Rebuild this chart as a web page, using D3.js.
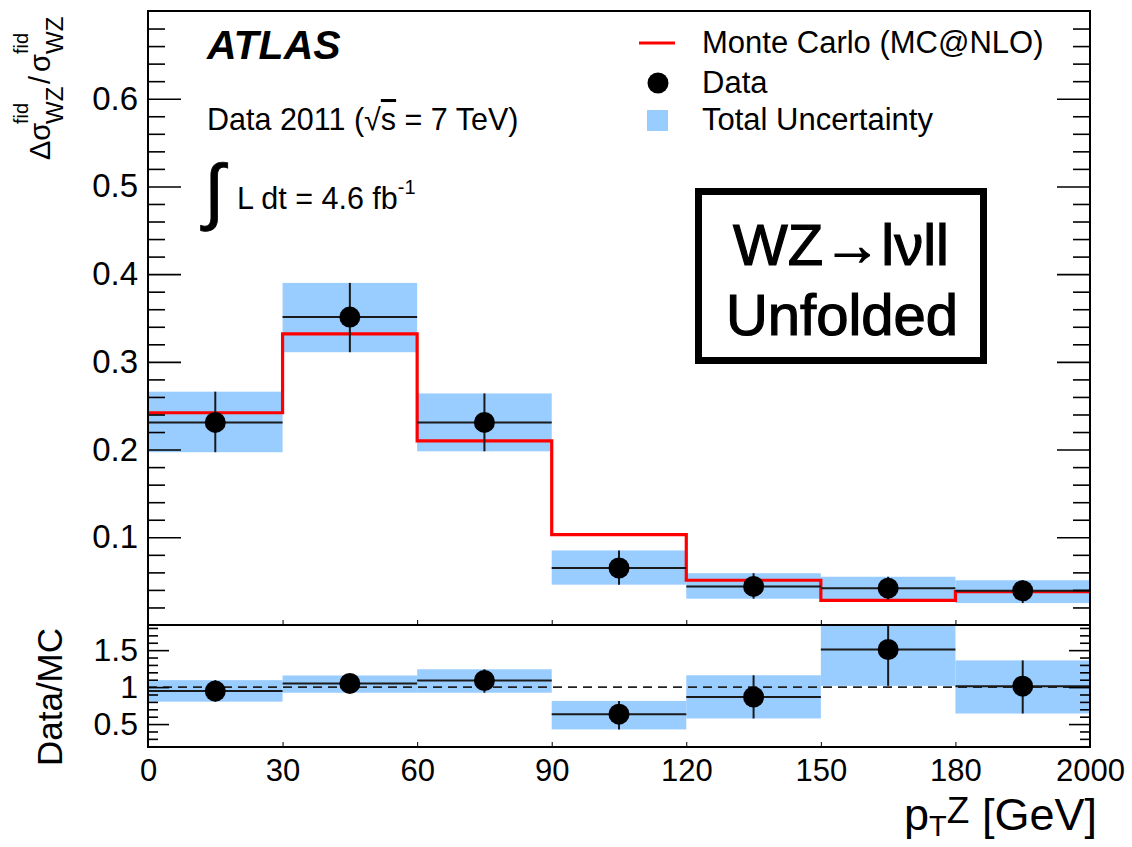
<!DOCTYPE html>
<html>
<head>
<meta charset="utf-8">
<script src="https://cdn.jsdelivr.net/npm/d3@7"></script>
<style>
  body { margin: 0; background: #fff; }
  svg text { font-family: "Liberation Sans", Arial, Helvetica, sans-serif; fill: #000; }
</style>
</head>
<body>
<div id="chart-area"></div>
<script>
// bin edges in GeV (last bin is an overflow bin drawn with the same width)
const binEdges = ["0", "30", "60", "90", "120", "150", "180", "2000"]

// top panel: normalised differential cross section
const mcValues   = [0.242, 0.332, 0.210, 0.103, 0.051, 0.028, 0.038]
const dataValues = [0.231, 0.351, 0.231, 0.065, 0.044, 0.042, 0.039]
const uncLow     = [0.197, 0.311, 0.198, 0.046, 0.030, 0.029, 0.025]
const uncHigh    = [0.266, 0.390, 0.264, 0.085, 0.059, 0.055, 0.051]

// bottom panel: Data/MC
const ratioValues = [0.946, 1.050, 1.090, 0.634, 0.866, 1.509, 1.013]
const ratioLow    = [0.803, 0.924, 0.924, 0.428, 0.576, 1.017, 0.643]
const ratioHigh   = [1.094, 1.157, 1.241, 0.813, 1.160, 2.000, 1.361]

const topTicks = [0.1, 0.2, 0.3, 0.4, 0.5, 0.6]
const ratioTicks = [0.5, 1, 1.5]

const W = 1132, H = 847
const LEFT = 148, RIGHT = 1090
const TOP_Y0 = 11, TOP_Y1 = 625, RAT_Y1 = 747
const BLUE = "#99ccff"

const svg = d3.select("#chart-area").append("svg")
  .attr("width", W)
  .attr("height", H)

const x = d3.scaleLinear().domain([0, binEdges.length - 1]).range([LEFT, RIGHT])
const y = d3.scaleLinear().domain([0, 0.70]).range([TOP_Y1, TOP_Y0])
const yr = d3.scaleLinear().domain([0.19, 1.84]).range([RAT_Y1, TOP_Y1])

const defs = svg.append("defs")
defs.append("clipPath").attr("id", "clipTop").append("rect")
  .attr("x", LEFT).attr("y", TOP_Y0).attr("width", RIGHT - LEFT).attr("height", TOP_Y1 - TOP_Y0)
defs.append("clipPath").attr("id", "clipRat").append("rect")
  .attr("x", LEFT).attr("y", TOP_Y1).attr("width", RIGHT - LEFT).attr("height", RAT_Y1 - TOP_Y1)

const bins = d3.range(mcValues.length)

// ---------- top panel ----------
const gTop = svg.append("g").attr("clip-path", "url(#clipTop)")

gTop.selectAll("rect.unc").data(bins).enter().append("rect")
  .attr("class", "unc")
  .attr("x", i => x(i))
  .attr("width", i => x(i + 1) - x(i))
  .attr("y", i => y(uncHigh[i]))
  .attr("height", i => y(uncLow[i]) - y(uncHigh[i]))
  .attr("fill", BLUE)

const stepPts = []
bins.forEach(i => {
  stepPts.push([x(i), y(mcValues[i])])
  stepPts.push([x(i + 1), y(mcValues[i])])
})
gTop.append("path")
  .attr("d", d3.line()(stepPts))
  .attr("fill", "none")
  .attr("stroke", "#ff0000")
  .attr("stroke-width", 3.2)

function drawPoints(g, vals, lo, hi, ys) {
  g.selectAll("line.xerr").data(bins).enter().append("line")
    .attr("x1", i => x(i)).attr("x2", i => x(i + 1))
    .attr("y1", i => ys(vals[i])).attr("y2", i => ys(vals[i]))
    .attr("stroke", "#1a1a1a").attr("stroke-width", 2)
  g.selectAll("line.yerr").data(bins).enter().append("line")
    .attr("x1", i => x(i + 0.5)).attr("x2", i => x(i + 0.5))
    .attr("y1", i => ys(lo[i])).attr("y2", i => ys(hi[i]))
    .attr("stroke", "#1a1a1a").attr("stroke-width", 2)
  g.selectAll("circle").data(bins).enter().append("circle")
    .attr("cx", i => x(i + 0.5))
    .attr("cy", i => ys(vals[i]))
    .attr("r", 10.5)
    .attr("fill", "#000")
}
drawPoints(gTop, dataValues, uncLow, uncHigh, y)

// ---------- ratio panel ----------
const gRat = svg.append("g").attr("clip-path", "url(#clipRat)")

gRat.selectAll("rect.unc").data(bins).enter().append("rect")
  .attr("class", "unc")
  .attr("x", i => x(i))
  .attr("width", i => x(i + 1) - x(i))
  .attr("y", i => yr(ratioHigh[i]))
  .attr("height", i => yr(ratioLow[i]) - yr(ratioHigh[i]))
  .attr("fill", BLUE)

gRat.append("line")
  .attr("x1", LEFT).attr("x2", RIGHT)
  .attr("y1", yr(1)).attr("y2", yr(1))
  .attr("stroke", "#222").attr("stroke-width", 1.6)
  .attr("stroke-dasharray", "9,6")

drawPoints(gRat, ratioValues, ratioLow, ratioHigh, yr)

// ---------- axes ----------
function styleAxis(g, size) {
  g.select(".domain").remove()
  g.selectAll("line").attr("stroke", "#000").attr("stroke-width", 1.6)
  g.selectAll("text").attr("font-size", size).attr("font-family", null).attr("fill", "#000")
  g.attr("font-family", null)
}

const minorTop = d3.range(1, 35).map(k => k * 0.02).filter(v => Math.abs(v * 10 - Math.round(v * 10)) > 1e-6)
const minorRat = d3.range(2, 19).map(k => k / 10).filter(v => Math.abs(v * 2 - Math.round(v * 2)) > 1e-6)

// left
svg.append("g").attr("transform", `translate(${LEFT},0)`)
  .call(d3.axisLeft(y).tickValues(topTicks).tickSize(-33).tickPadding(10).tickFormat(d3.format(".1f")))
  .call(g => styleAxis(g, 33))
svg.append("g").attr("transform", `translate(${LEFT},0)`)
  .call(d3.axisLeft(y).tickValues(minorTop).tickSize(-17).tickFormat(""))
  .call(g => styleAxis(g, 10))
svg.append("g").attr("transform", `translate(${LEFT},0)`)
  .call(d3.axisLeft(yr).tickValues(ratioTicks).tickSize(-21).tickPadding(10).tickFormat(d => d))
  .call(g => styleAxis(g, 32))
svg.append("g").attr("transform", `translate(${LEFT},0)`)
  .call(d3.axisLeft(yr).tickValues(minorRat).tickSize(-10).tickFormat(""))
  .call(g => styleAxis(g, 10))

// right (mirrored ticks)
svg.append("g").attr("transform", `translate(${RIGHT},0)`)
  .call(d3.axisRight(y).tickValues(topTicks).tickSize(-33).tickFormat(""))
  .call(g => styleAxis(g, 10))
svg.append("g").attr("transform", `translate(${RIGHT},0)`)
  .call(d3.axisRight(y).tickValues(minorTop).tickSize(-17).tickFormat(""))
  .call(g => styleAxis(g, 10))
svg.append("g").attr("transform", `translate(${RIGHT},0)`)
  .call(d3.axisRight(yr).tickValues(ratioTicks).tickSize(-21).tickFormat(""))
  .call(g => styleAxis(g, 10))
svg.append("g").attr("transform", `translate(${RIGHT},0)`)
  .call(d3.axisRight(yr).tickValues(minorRat).tickSize(-10).tickFormat(""))
  .call(g => styleAxis(g, 10))

// bottom
svg.append("g").attr("transform", `translate(0,${RAT_Y1})`)
  .call(d3.axisBottom(x).tickValues(d3.range(binEdges.length)).tickSize(-5).tickPadding(12).tickFormat(i => binEdges[i]))
  .call(g => styleAxis(g, 31))
  .call(g => g.selectAll("line").attr("stroke-width", 1))
svg.append("g").attr("transform", `translate(0,${TOP_Y1})`)
  .call(d3.axisBottom(x).tickValues(d3.range(binEdges.length)).tickSize(-5).tickFormat(""))
  .call(g => styleAxis(g, 10))
  .call(g => g.selectAll("line").attr("stroke-width", 1))

// frames
svg.append("rect").attr("x", LEFT).attr("y", TOP_Y0)
  .attr("width", RIGHT - LEFT).attr("height", TOP_Y1 - TOP_Y0)
  .attr("fill", "none").attr("stroke", "#000").attr("stroke-width", 2)
svg.append("rect").attr("x", LEFT).attr("y", TOP_Y1)
  .attr("width", RIGHT - LEFT).attr("height", RAT_Y1 - TOP_Y1)
  .attr("fill", "none").attr("stroke", "#000").attr("stroke-width", 2)

// ---------- axis titles ----------
const yt = svg.append("g").attr("transform", "translate(50,160) rotate(-90)")
const ytParts = [
  { t: "Δσ", x: 0, y: 0, s: 29 },
  { t: "fid", x: 36, y: -22, s: 20 },
  { t: "WZ", x: 36, y: 13, s: 24 },
  { t: "/", x: 76, y: 0, s: 29 },
  { t: "σ", x: 88, y: 0, s: 29 },
  { t: "fid", x: 106, y: -22, s: 20 },
  { t: "WZ", x: 106, y: 13, s: 24 }
]
ytParts.forEach(p => {
  yt.append("text").attr("x", p.x).attr("y", p.y).attr("font-size", p.s).text(p.t)
})

svg.append("text")
  .attr("transform", "translate(62,697) rotate(-90)")
  .attr("text-anchor", "middle")
  .attr("font-size", 35)
  .text("Data/MC")

const xt = svg.append("text")
  .attr("x", 1097).attr("y", 830)
  .attr("text-anchor", "end")
  .attr("font-size", 45)
xt.append("tspan").text("p")
xt.append("tspan").attr("font-size", 29).attr("dy", 6).text("T")
xt.append("tspan").attr("font-size", 37).attr("dy", -13).text("Z")
xt.append("tspan").attr("dy", 7).text(" [GeV]")

// ---------- labels ----------
svg.append("text")
  .attr("x", 207).attr("y", 59)
  .attr("font-size", 41)
  .attr("font-weight", "bold")
  .attr("font-style", "italic")
  .text("ATLAS")

const dl = svg.append("text").attr("x", 207).attr("y", 130).attr("font-size", 30.5)
dl.append("tspan").text("Data 2011 (√")
dl.append("tspan").attr("text-decoration", "overline").text("s")
dl.append("tspan").text(" = 7 TeV)")

svg.append("text")
  .attr("x", 204).attr("y", 216)
  .attr("font-size", 73)
  .attr("stroke", "#000").attr("stroke-width", 0.8)
  .text("∫")
const lum = svg.append("text").attr("x", 237).attr("y", 209).attr("font-size", 30.5)
lum.append("tspan").text("L dt = 4.6 fb")
lum.append("tspan").attr("font-size", 20).attr("dy", -15).text("-1")

// legend
svg.append("line")
  .attr("x1", 639).attr("x2", 675).attr("y1", 43).attr("y2", 43)
  .attr("stroke", "#ff0000").attr("stroke-width", 3)
svg.append("circle").attr("cx", 658).attr("cy", 83).attr("r", 10.5).attr("fill", "#000")
svg.append("rect").attr("x", 647).attr("y", 110).attr("width", 21).attr("height", 21).attr("fill", BLUE)
const legendLabels = ["Monte Carlo (MC@NLO)", "Data", "Total Uncertainty"]
const legendY = [53, 93, 130]
legendLabels.forEach((t, i) => {
  svg.append("text").attr("x", 702).attr("y", legendY[i]).attr("font-size", 31).text(t)
})

// process box
svg.append("rect")
  .attr("x", 698.5).attr("y", 191.5)
  .attr("width", 285).attr("height", 169)
  .attr("fill", "#fff").attr("stroke", "#000").attr("stroke-width", 7)
svg.append("text").attr("x", 841).attr("y", 265).attr("text-anchor", "middle")
  .attr("font-size", 58).attr("stroke", "#000").attr("stroke-width", 1.2)
  .text("WZ→lνll")
svg.append("text").attr("x", 842).attr("y", 335).attr("text-anchor", "middle")
  .attr("font-size", 58).attr("stroke", "#000").attr("stroke-width", 1.2)
  .text("Unfolded")
</script>
</body>
</html>
